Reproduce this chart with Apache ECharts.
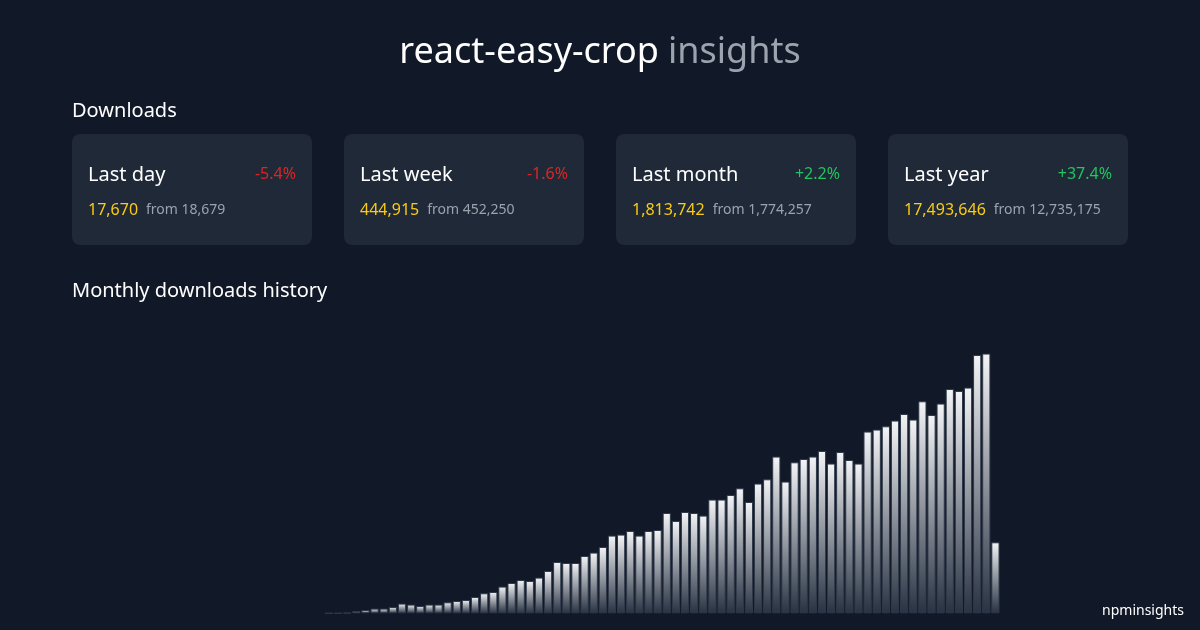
<!DOCTYPE html>
<html>
<head>
    <meta charset="utf-8">
    <title>react-easy-crop insights</title>
    <script src="https://cdn.jsdelivr.net/npm/echarts@6/dist/echarts.min.js"></script>
    <style>
        html, body { margin: 0; padding: 0; background: #111827; }
    </style>
</head>
<body>
    <div id="main" style="width: 1200px;height:630px;"></div>
    <script type="text/javascript">
    var myChart = echarts.init(document.getElementById('main'));

    var packageName = 'react-easy-crop';
    var periods = ['Last day', 'Last week', 'Last month', 'Last year'];
    var current = ['17,670', '444,915', '1,813,742', '17,493,646'];
    var previous = ['18,679', '452,250', '1,774,257', '12,735,175'];
    var changes = ['-5.4%', '-1.6%', '+2.2%', '+37.4%'];

    // monthly downloads (estimates)
    var monthly = [500, 1200, 3000, 16000, 23000, 33000, 33000, 44000, 68000, 61000,
        51000, 61000, 61000, 77000, 86000, 93000, 114000, 140000, 149000, 187000,
        212000, 233000, 226000, 250000, 296000, 359000, 352000, 352000, 401000, 425000,
        464000, 544000, 551000, 576000, 544000, 576000, 583000, 702000, 646000, 709000,
        702000, 684000, 796000, 796000, 828000, 875000, 779000, 908000, 938000, 1097000,
        922000, 1057000, 1080000, 1097000, 1136000, 1048000, 1129000, 1073000, 1048000, 1272000,
        1286000, 1309000, 1349000, 1395000, 1356000, 1484000, 1388000, 1468000, 1570000, 1556000,
        1580000, 1808000, 1818000, 497000];

    var font = '"Noto Sans"';
    var graphics = [];

    function addText(x, y, style) {
        style.fontFamily = font;
        style.verticalAlign = 'middle';
        graphics.push({ type: 'text', x: x, y: y, style: style });
    }

    addText(600, 53, {
        text: '{a|' + packageName + '}{b|insights}',
        align: 'center',
        rich: {
            a: { fontFamily: font, fontSize: 36, fill: '#ffffff' },
            b: { fontFamily: font, fontSize: 36, fill: '#9ca3af', padding: [0, 0, 0, 9] }
        }
    });
    addText(72, 111, { text: 'Downloads', fontSize: 20, fill: '#ffffff' });
    addText(72, 291, { text: 'Monthly downloads history', fontSize: 20, fill: '#ffffff' });
    addText(1184, 611, { text: 'npminsights', fontSize: 14, fill: '#ffffff', align: 'right' });

    periods.forEach(function (name, idx) {
        var left = 72 + idx * 272;
        graphics.push({
            type: 'rect',
            shape: { x: left, y: 134, width: 240, height: 111, r: 8 },
            style: { fill: '#1f2937' }
        });
        addText(left + 16, 175, { text: name, fontSize: 20, fill: '#ffffff' });
        addText(left + 224, 174, {
            text: changes[idx],
            fontSize: 16,
            align: 'right',
            fill: changes[idx].charAt(0) === '-' ? '#dc2626' : '#22c55e'
        });
        addText(left + 16, 210, {
            text: '{v|' + current[idx] + '}{f|from ' + previous[idx] + '}',
            rich: {
                v: { fontFamily: font, fontSize: 16, fill: '#facc15' },
                f: { fontFamily: font, fontSize: 14, fill: '#9ca3af', padding: [0, 0, 0, 8] }
            }
        });
    });

    option = {
        backgroundColor: '#111827',
        animation: false,
        graphic: graphics,
        grid: { left: 324.4, width: 675.6, top: 340, height: 273.3 },
        xAxis: {
            type: 'category',
            data: monthly.map(function (v, i) { return i; }),
            show: false
        },
        yAxis: { type: 'value', min: 0, max: 1913100, show: false },
        series: [{
            type: 'bar',
            data: monthly,
            barWidth: '90%',
            itemStyle: {
                borderColor: '#2f3949',
                borderWidth: 1,
                color: new echarts.graphic.LinearGradient(0, 0, 0, 1, [
                    { offset: 0, color: '#f3f4f6' },
                    { offset: 1, color: '#283242' }
                ])
            }
        }]
    };

    myChart.setOption(option);
    </script>
</body>
</html>
